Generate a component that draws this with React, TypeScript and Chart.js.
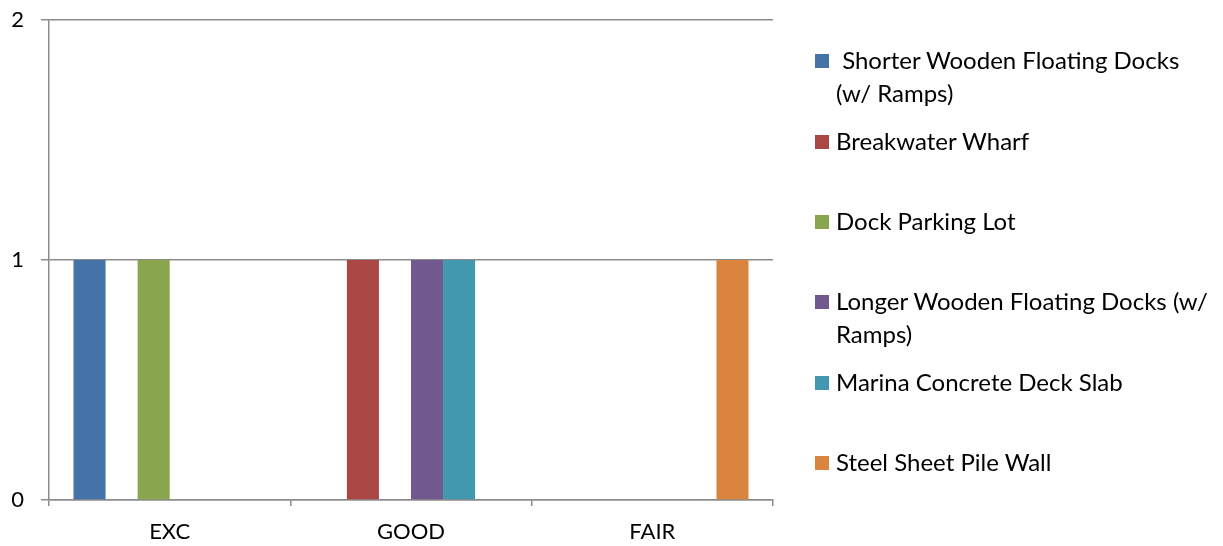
import React, { useEffect, useRef } from "react";
import { Chart, registerables } from "chart.js";

Chart.register(...registerables);

// Condition ratings on the x axis
const categories = ["EXC", "GOOD", "FAIR"];

// One series per marina asset: count of assets per rating
const seriesNames = [
  " Shorter Wooden Floating Docks (w/ Ramps)",
  "Breakwater Wharf",
  "Dock Parking Lot",
  "Longer Wooden Floating Docks (w/ Ramps)",
  "Marina Concrete Deck Slab",
  "Steel Sheet Pile Wall",
];
const shorterDocks = [1, 0, 0];
const breakwaterWharf = [0, 1, 0];
const dockParkingLot = [1, 0, 0];
const longerDocks = [0, 1, 0];
const concreteDeckSlab = [0, 1, 0];
const steelSheetPileWall = [0, 0, 1];
const seriesValues = [
  shorterDocks,
  breakwaterWharf,
  dockParkingLot,
  longerDocks,
  concreteDeckSlab,
  steelSheetPileWall,
];
const seriesColors = ["#4572A7", "#AA4643", "#89A54E", "#71588F", "#4198AF", "#DB843D"];

const FONT = "Lato, 'Open Sans', sans-serif";
const AXIS_GRAY = "#8c8c8c";

// Vertical centre of each legend entry's first line
const legendTops = [61, 142, 222, 302, 383, 463];

export default function App() {
  const canvasRef = useRef<HTMLCanvasElement | null>(null);

  useEffect(() => {
    if (!canvasRef.current) return;
    const chart = new Chart(canvasRef.current, {
      type: "bar",
      data: {
        labels: categories,
        datasets: seriesNames.map((name, i) => ({
          label: name,
          data: seriesValues[i],
          backgroundColor: seriesColors[i],
          borderWidth: 0,
          barPercentage: 1,
          categoryPercentage: 0.797,
        })),
      },
      options: {
        animation: false,
        responsive: false,
        maintainAspectRatio: false,
        layout: { padding: { top: 20, right: 450, left: 0, bottom: 0 } },
        plugins: {
          legend: { display: false },
          tooltip: { enabled: false },
        },
        scales: {
          x: {
            afterFit: (scale: any) => {
              scale.height = 46;
            },
            grid: {
              display: true,
              offset: true,
              drawOnChartArea: false,
              drawTicks: true,
              tickLength: 6,
              color: AXIS_GRAY,
              lineWidth: 1.5,
            },
            border: { display: true, color: AXIS_GRAY, width: 1.5 },
            ticks: {
              color: "#000",
              font: { family: FONT, size: 22 },
              padding: 13,
            },
          },
          y: {
            min: 0,
            max: 2,
            afterFit: (scale: any) => {
              scale.width = 49;
              scale.paddingTop = 0;
              scale.paddingBottom = 0;
            },
            grid: {
              display: true,
              drawOnChartArea: true,
              drawTicks: true,
              tickLength: 8,
              color: AXIS_GRAY,
              lineWidth: 1.5,
            },
            border: { display: true, color: AXIS_GRAY, width: 1.5 },
            ticks: {
              stepSize: 1,
              color: "#000",
              font: { family: FONT, size: 22 },
              padding: 17,
            },
          },
        },
      },
    });
    return () => chart.destroy();
  }, []);

  return (
    <div
      style={{
        position: "fixed",
        left: 0,
        top: 0,
        width: 1223,
        height: 546,
        background: "#fff",
        fontFamily: FONT,
      }}
    >
      <canvas
        ref={canvasRef}
        width={1223}
        height={546}
        style={{ position: "absolute", left: 0, top: 0, width: 1223, height: 546 }}
      />
      {seriesNames.map((name, i) => (
        <div
          key={name}
          style={{
            position: "absolute",
            left: 815,
            top: legendTops[i] - 18,
            width: 408,
            display: "flex",
            alignItems: "flex-start",
          }}
        >
          <span
            style={{
              display: "inline-block",
              width: 14,
              height: 14,
              marginTop: 11,
              background: seriesColors[i],
              flex: "0 0 auto",
            }}
          />
          <span
            style={{
              marginLeft: 7,
              fontSize: 24,
              lineHeight: "33px",
              color: "#000",
              whiteSpace: "pre-wrap",
              width: 372,
            }}
          >
            {name}
          </span>
        </div>
      ))}
    </div>
  );
}
